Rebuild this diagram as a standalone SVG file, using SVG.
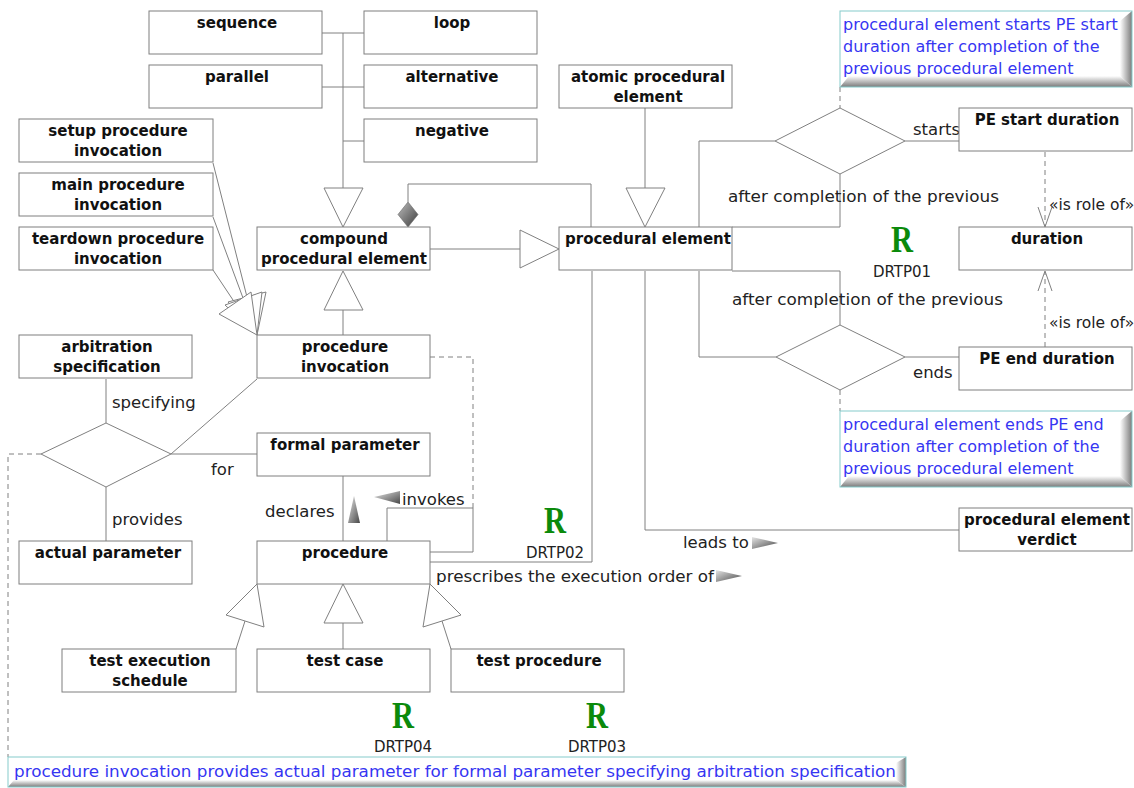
<svg xmlns="http://www.w3.org/2000/svg" width="1134" height="788" viewBox="0 0 1134 788">
  <defs>
    <style>
      .box { fill: #fff; stroke: #7f7f7f; stroke-width: 1; }
      .ln { fill: none; stroke: #808080; stroke-width: 1; }
      .dash { fill: none; stroke: #808080; stroke-width: 1; stroke-dasharray: 5 4; }
      .tri { fill: #fff; stroke: #808080; stroke-width: 1; }
      .b { font-family: "DejaVu Sans", sans-serif; font-weight: bold; font-size: 15px; fill: #111; text-anchor: middle; }
      .t { font-family: "DejaVu Sans", sans-serif; font-size: 16.5px; fill: #222; }
      .s { font-family: "DejaVu Sans", sans-serif; font-size: 15.5px; fill: #222; }
      .n { font-family: "DejaVu Sans", sans-serif; font-size: 16px; fill: #3636f2; }
      .r { font-family: "Liberation Serif", serif; font-weight: bold; font-size: 38px; fill: #0b8a0b; }
      .d { font-family: "DejaVu Sans", sans-serif; font-size: 15px; fill: #222; }
      .ind { fill: url(#gInd); stroke: none; }
    </style>
    <linearGradient id="gInd" x1="0" y1="0" x2="1" y2="1">
      <stop offset="0" stop-color="#e6e6e6"/>
      <stop offset="1" stop-color="#474747"/>
    </linearGradient>
    <linearGradient id="gDia" x1="0" y1="0" x2="1" y2="1">
      <stop offset="0" stop-color="#bdbdbd"/>
      <stop offset="1" stop-color="#3c3c3c"/>
    </linearGradient>
    <linearGradient id="gRight" x1="0" y1="0" x2="1" y2="0">
      <stop offset="0" stop-color="#ffffff"/>
      <stop offset="1" stop-color="#7a7a7a"/>
    </linearGradient>
    <linearGradient id="gBottom" x1="0" y1="0" x2="0" y2="1">
      <stop offset="0" stop-color="#ffffff"/>
      <stop offset="1" stop-color="#7a7a7a"/>
    </linearGradient>
  </defs>

  <rect width="1134" height="788" fill="#fff"/>

  <!-- connectors -->
  <g id="connectors">
    <!-- kinds of compound procedural element -->
    <path class="ln" d="M322,33 H364 M322,87 H364 M343,141 H364 M343,33 V188"/>
    <polygon class="tri" points="324,188 363,188 343,227"/>
    <!-- atomic procedural element is a procedural element -->
    <path class="ln" d="M645,108 V188"/>
    <polygon class="tri" points="626,188 665,188 645,227"/>
    <!-- compound procedural element is a procedural element -->
    <path class="ln" d="M430,249 H520"/>
    <polygon class="tri" points="520,230 520,268 559,249"/>
    <!-- composition -->
    <path class="ln" d="M408,202 V184 H591 V227"/>
    <polygon points="408,227 398,214.5 408,202 418,214.5" fill="url(#gDia)" stroke="#666" stroke-width="0.6"/>
    <!-- procedure invocation is a compound procedural element -->
    <path class="ln" d="M343,335 V310"/>
    <polygon class="tri" points="324,310 363,310 343,271"/>
    <!-- setup / main / teardown invocations -->
    <path class="ln" d="M213,163 L247,297 M213,217 L243,298 M213,270 L235,303"/>
    <polygon class="tri" points="257,335 266,292 228,302"/>
    <polygon class="tri" points="257,335 262,292 225,305"/>
    <polygon class="tri" points="257,335 251,292 219,314"/>

    <!-- starts -->
    <path class="ln" d="M699,227 V141 H775 M905,141 H959 M732,227 H840 V174"/>
    <polygon class="tri" points="775,141 840,108 905,141 840,174"/>
    <path class="dash" d="M840,87 V108"/>
    <!-- ends -->
    <path class="ln" d="M699,271 V357 H776 M905,357 H959 M732,271 H840 V325"/>
    <polygon class="tri" points="776,357 840,325 905,357 840,390"/>
    <path class="dash" d="M840,390 V411"/>
    <!-- is role of -->
    <path class="dash" d="M1045,152 V226"/>
    <polyline class="ln" points="1038,207 1045,227 1052,207"/>
    <path class="dash" d="M1045,347 V272"/>
    <polyline class="ln" points="1038,291 1045,271 1052,291"/>
    <!-- leads to -->
    <path class="ln" d="M645,271 V530 H959"/>
    <polygon class="ind" points="752,537 752,549 778,543"/>
    <!-- prescribes the execution order of -->
    <path class="ln" d="M592,271 V562 H430"/>
    <polygon class="ind" points="716,570 716,582 742,576"/>

    <!-- parameter relation -->
    <polygon class="tri" points="41,454 106,423 171,454 106,487"/>
    <path class="ln" d="M106,379 V423 M106,487 V541 M171,454 H257 M171,454 L257,379"/>
    <path class="dash" d="M41,454 H8 V757"/>
    <!-- declares -->
    <path class="ln" d="M343,476 V541"/>
    <polygon class="ind" points="354,496 348,523 360,523"/>
    <!-- invokes -->
    <path class="ln" d="M387,541 V508 H473 V552 H430"/>
    <path class="dash" d="M430,357 H473 V508"/>
    <polygon class="ind" points="374,497 400,491 400,504"/>

    <!-- kinds of procedure -->
    <path class="ln" d="M343,649 V623"/>
    <polygon class="tri" points="324,623 363,623 343,584"/>
    <path class="ln" d="M236,649 L245,621"/>
    <polygon class="tri" points="257,584 264,627 226,615"/>
    <path class="ln" d="M451,649 L442,621"/>
    <polygon class="tri" points="430,584 423,627 461,615"/>
  </g>

  <!-- connector labels -->
  <g id="labels">
    <text class="t" x="913" y="135">starts</text>
    <text class="t" x="728" y="202" textLength="271" lengthAdjust="spacingAndGlyphs">after completion of the previous</text>
    <text class="s" x="1049" y="210">«is role of»</text>
    <text class="t" x="732" y="305" textLength="271" lengthAdjust="spacingAndGlyphs">after completion of the previous</text>
    <text class="s" x="1049" y="328">«is role of»</text>
    <text class="t" x="913" y="378">ends</text>
    <text class="t" x="112" y="408">specifying</text>
    <text class="t" x="211" y="475">for</text>
    <text class="t" x="112" y="525">provides</text>
    <text class="t" x="265" y="517">declares</text>
    <text class="t" x="402" y="505">invokes</text>
    <text class="t" x="436" y="582" textLength="278" lengthAdjust="spacingAndGlyphs">prescribes the execution order of</text>
    <text class="t" x="683" y="548">leads to</text>
  </g>

  <!-- nodes -->
  <g id="sequence"><rect class="box" x="149" y="11" width="173" height="43"/><text class="b" x="237" y="28">sequence</text></g>
  <g id="loop"><rect class="box" x="364" y="11" width="173" height="43"/><text class="b" x="452" y="28">loop</text></g>
  <g id="parallel"><rect class="box" x="149" y="65" width="173" height="43"/><text class="b" x="237" y="82">parallel</text></g>
  <g id="alternative"><rect class="box" x="364" y="65" width="173" height="43"/><text class="b" x="452" y="82">alternative</text></g>
  <g id="negative"><rect class="box" x="364" y="119" width="173" height="43"/><text class="b" x="452" y="136">negative</text></g>

  <g id="setup-procedure-invocation"><rect class="box" x="19" y="119" width="194" height="43"/><text class="b" x="118" y="136">setup procedure</text><text class="b" x="118" y="156">invocation</text></g>
  <g id="main-procedure-invocation"><rect class="box" x="19" y="173" width="194" height="43"/><text class="b" x="118" y="190">main procedure</text><text class="b" x="118" y="210">invocation</text></g>
  <g id="teardown-procedure-invocation"><rect class="box" x="19" y="227" width="194" height="43"/><text class="b" x="118" y="244">teardown procedure</text><text class="b" x="118" y="264">invocation</text></g>

  <g id="compound-procedural-element"><rect class="box" x="257" y="227" width="173" height="43"/><text class="b" x="344" y="244">compound</text><text class="b" x="344" y="264">procedural element</text></g>
  <g id="procedure-invocation"><rect class="box" x="257" y="335" width="173" height="43"/><text class="b" x="345" y="352">procedure</text><text class="b" x="345" y="372">invocation</text></g>

  <g id="atomic-procedural-element"><rect class="box" x="559" y="65" width="173" height="43"/><text class="b" x="648" y="82">atomic procedural</text><text class="b" x="648" y="102">element</text></g>
  <g id="procedural-element"><rect class="box" x="559" y="227" width="173" height="43"/><text class="b" x="648" y="244">procedural element</text></g>

  <g id="pe-start-duration"><rect class="box" x="959" y="108" width="173" height="43"/><text class="b" x="1047" y="125">PE start duration</text></g>
  <g id="duration"><rect class="box" x="959" y="227" width="173" height="43"/><text class="b" x="1047" y="244">duration</text></g>
  <g id="pe-end-duration"><rect class="box" x="959" y="347" width="173" height="43"/><text class="b" x="1047" y="364">PE end duration</text></g>
  <g id="procedural-element-verdict"><rect class="box" x="959" y="508" width="173" height="43"/><text class="b" x="1047" y="525">procedural element</text><text class="b" x="1047" y="545">verdict</text></g>

  <g id="arbitration-specification"><rect class="box" x="19" y="335" width="173" height="43"/><text class="b" x="107" y="352">arbitration</text><text class="b" x="107" y="372">specification</text></g>
  <g id="actual-parameter"><rect class="box" x="19" y="541" width="173" height="43"/><text class="b" x="108" y="558">actual parameter</text></g>
  <g id="formal-parameter"><rect class="box" x="257" y="433" width="173" height="43"/><text class="b" x="345" y="450">formal parameter</text></g>
  <g id="procedure"><rect class="box" x="257" y="541" width="173" height="43"/><text class="b" x="345" y="558">procedure</text></g>

  <g id="test-execution-schedule"><rect class="box" x="62" y="649" width="174" height="43"/><text class="b" x="150" y="666">test execution</text><text class="b" x="150" y="686">schedule</text></g>
  <g id="test-case"><rect class="box" x="257" y="649" width="173" height="43"/><text class="b" x="345" y="666">test case</text></g>
  <g id="test-procedure"><rect class="box" x="451" y="649" width="173" height="43"/><text class="b" x="539" y="666">test procedure</text></g>

  <!-- notes -->
  <g id="note-starts">
    <rect x="840" y="11" width="292" height="76" fill="#fff"/>
    <polygon points="1132,11 1132,87 1120,76 1120,21" fill="url(#gRight)"/>
    <polygon points="840,87 1132,87 1120,76 849,76" fill="url(#gBottom)"/>
    <rect x="840" y="11" width="292" height="76" fill="none" stroke="#86cccc"/>
    <text class="n" x="843" y="30">procedural element starts PE start</text>
    <text class="n" x="843" y="52">duration after completion of the</text>
    <text class="n" x="843" y="74">previous procedural element</text>
  </g>
  <g id="note-ends">
    <rect x="840" y="411" width="292" height="76" fill="#fff"/>
    <polygon points="1132,411 1132,487 1120,476 1120,421" fill="url(#gRight)"/>
    <polygon points="840,487 1132,487 1120,476 849,476" fill="url(#gBottom)"/>
    <rect x="840" y="411" width="292" height="76" fill="none" stroke="#86cccc"/>
    <text class="n" x="843" y="430">procedural element ends PE end</text>
    <text class="n" x="843" y="452">duration after completion of the</text>
    <text class="n" x="843" y="474">previous procedural element</text>
  </g>
  <g id="note-parameters">
    <rect x="8" y="757" width="898" height="30" fill="#fff"/>
    <polygon points="906,757 906,787 896,780 896,763" fill="url(#gRight)"/>
    <polygon points="8,787 906,787 896,780 14,780" fill="url(#gBottom)"/>
    <rect x="8" y="757" width="898" height="30" fill="none" stroke="#86cccc"/>
    <text class="n" x="14" y="777" textLength="882" lengthAdjust="spacingAndGlyphs">procedure invocation provides actual parameter for formal parameter specifying arbitration specification</text>
  </g>

  <!-- rule markers -->
  <g id="DRTP01"><text class="r" x="891" y="252" textLength="22" lengthAdjust="spacingAndGlyphs">R</text><text class="d" x="902" y="277" text-anchor="middle">DRTP01</text></g>
  <g id="DRTP02"><text class="r" x="544" y="533" textLength="22" lengthAdjust="spacingAndGlyphs">R</text><text class="d" x="555" y="558" text-anchor="middle">DRTP02</text></g>
  <g id="DRTP04"><text class="r" x="392" y="728" textLength="22" lengthAdjust="spacingAndGlyphs">R</text><text class="d" x="403" y="752" text-anchor="middle">DRTP04</text></g>
  <g id="DRTP03"><text class="r" x="586" y="728" textLength="22" lengthAdjust="spacingAndGlyphs">R</text><text class="d" x="597" y="752" text-anchor="middle">DRTP03</text></g>
</svg>
